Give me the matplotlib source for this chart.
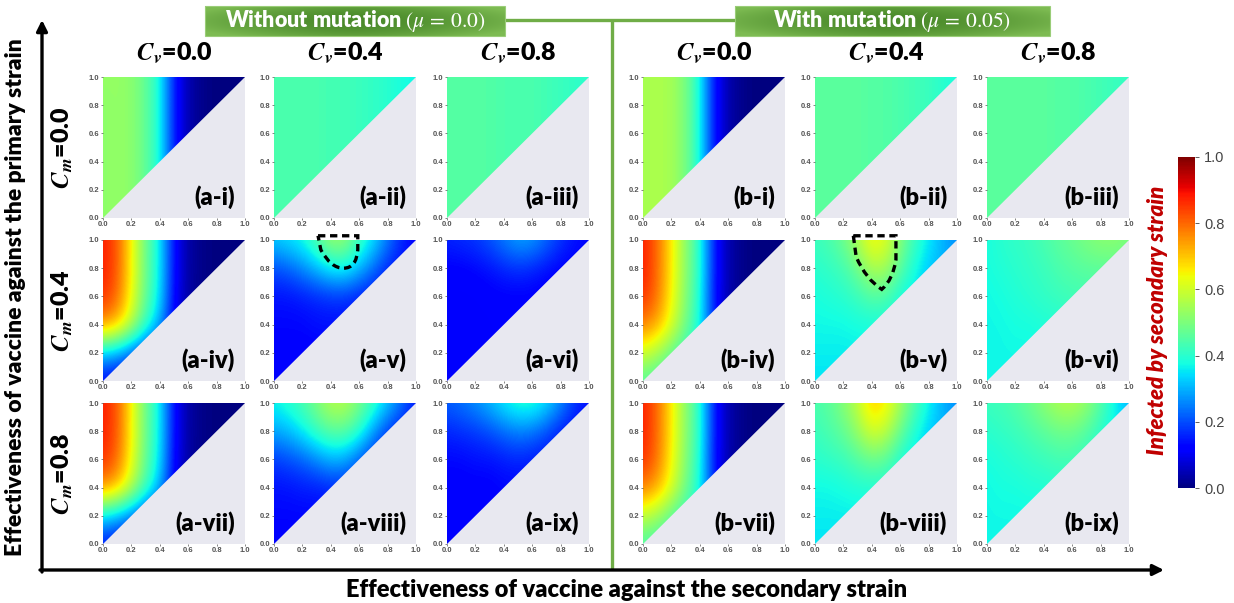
import numpy as np
import matplotlib
matplotlib.use('Agg')
import matplotlib.pyplot as plt
from matplotlib.patches import Polygon, Rectangle, PathPatch
from matplotlib.path import Path
import matplotlib.colors as mcolors
import matplotlib.cm as cm

plt.rcParams['font.family'] = ['Lato', 'DejaVu Sans']
plt.rcParams['mathtext.fontset'] = 'stix'

# ---------------- data (grid: rows y=0,0.2,...,1.0 ; cols x=0,0.1,...,1.0) ----------------
GRID_X = [0.0, 0.1, 0.2, 0.3, 0.4, 0.5, 0.6, 0.7, 0.8, 0.9, 1.0]
GRID_Y = [0.0, 0.2, 0.4, 0.6, 0.8, 1.0]

A_I = [
    [0.52, 0.53, 0.52, 0.47, 0.38, 0.15, 0.04, 0.01, 0.00, 0.00, 0.00],
    [0.52, 0.53, 0.52, 0.47, 0.38, 0.15, 0.04, 0.01, 0.00, 0.00, 0.00],
    [0.52, 0.53, 0.52, 0.47, 0.38, 0.15, 0.04, 0.01, 0.00, 0.00, 0.00],
    [0.52, 0.53, 0.52, 0.47, 0.38, 0.15, 0.04, 0.01, 0.00, 0.00, 0.00],
    [0.52, 0.53, 0.52, 0.47, 0.38, 0.15, 0.04, 0.01, 0.00, 0.00, 0.00],
    [0.53, 0.53, 0.52, 0.47, 0.38, 0.15, 0.04, 0.01, 0.00, 0.00, 0.00],
]
A_II = [
    [0.44, 0.44, 0.44, 0.44, 0.43, 0.43, 0.42, 0.41, 0.40, 0.38, 0.37],
    [0.44, 0.44, 0.44, 0.44, 0.43, 0.43, 0.42, 0.41, 0.40, 0.38, 0.37],
    [0.44, 0.44, 0.44, 0.44, 0.43, 0.43, 0.42, 0.41, 0.40, 0.38, 0.37],
    [0.44, 0.44, 0.44, 0.44, 0.43, 0.43, 0.42, 0.41, 0.40, 0.38, 0.37],
    [0.44, 0.44, 0.44, 0.44, 0.43, 0.43, 0.42, 0.41, 0.40, 0.38, 0.37],
    [0.44, 0.44, 0.44, 0.44, 0.43, 0.43, 0.42, 0.41, 0.40, 0.38, 0.37],
]
A_III = [
    [0.45, 0.45, 0.45, 0.45, 0.44, 0.44, 0.44, 0.43, 0.42, 0.41, 0.40],
    [0.45, 0.45, 0.45, 0.45, 0.44, 0.44, 0.44, 0.43, 0.42, 0.41, 0.40],
    [0.45, 0.45, 0.45, 0.45, 0.44, 0.44, 0.44, 0.43, 0.42, 0.41, 0.40],
    [0.45, 0.45, 0.45, 0.45, 0.44, 0.44, 0.44, 0.43, 0.42, 0.41, 0.40],
    [0.45, 0.45, 0.45, 0.45, 0.44, 0.44, 0.44, 0.43, 0.42, 0.41, 0.40],
    [0.45, 0.45, 0.45, 0.45, 0.44, 0.44, 0.44, 0.43, 0.42, 0.41, 0.40],
]
A_IV = [
    [0.12, 0.10, 0.09, 0.08, 0.07, 0.06, 0.03, 0.01, 0.00, 0.00, 0.00],
    [0.32, 0.29, 0.22, 0.16, 0.12, 0.08, 0.03, 0.01, 0.00, 0.00, 0.00],
    [0.76, 0.71, 0.58, 0.42, 0.30, 0.11, 0.03, 0.01, 0.00, 0.00, 0.00],
    [0.86, 0.80, 0.64, 0.47, 0.35, 0.12, 0.03, 0.01, 0.00, 0.00, 0.00],
    [0.88, 0.82, 0.65, 0.48, 0.36, 0.13, 0.03, 0.01, 0.00, 0.00, 0.00],
    [0.88, 0.82, 0.65, 0.48, 0.36, 0.13, 0.03, 0.01, 0.00, 0.00, 0.00],
]
A_V = [
    [0.11, 0.11, 0.11, 0.11, 0.11, 0.11, 0.11, 0.11, 0.11, 0.11, 0.11],
    [0.12, 0.12, 0.12, 0.12, 0.12, 0.12, 0.12, 0.12, 0.12, 0.12, 0.12],
    [0.13, 0.13, 0.13, 0.14, 0.14, 0.14, 0.13, 0.13, 0.12, 0.12, 0.12],
    [0.14, 0.14, 0.15, 0.16, 0.17, 0.17, 0.15, 0.14, 0.13, 0.12, 0.12],
    [0.20, 0.22, 0.26, 0.31, 0.36, 0.37, 0.31, 0.23, 0.16, 0.14, 0.13],
    [0.33, 0.35, 0.38, 0.45, 0.54, 0.53, 0.43, 0.35, 0.25, 0.16, 0.12],
]
A_VI = [
    [0.11, 0.11, 0.11, 0.11, 0.11, 0.11, 0.11, 0.11, 0.11, 0.11, 0.11],
    [0.11, 0.11, 0.11, 0.11, 0.11, 0.11, 0.11, 0.11, 0.11, 0.11, 0.11],
    [0.11, 0.11, 0.11, 0.11, 0.12, 0.12, 0.12, 0.11, 0.11, 0.11, 0.11],
    [0.11, 0.11, 0.11, 0.12, 0.12, 0.12, 0.12, 0.11, 0.11, 0.11, 0.11],
    [0.12, 0.12, 0.13, 0.14, 0.16, 0.17, 0.16, 0.14, 0.12, 0.12, 0.12],
    [0.16, 0.17, 0.18, 0.21, 0.25, 0.29, 0.28, 0.23, 0.18, 0.14, 0.13],
]
A_VII = [
    [0.14, 0.12, 0.10, 0.08, 0.07, 0.06, 0.03, 0.01, 0.00, 0.00, 0.00],
    [0.34, 0.30, 0.24, 0.17, 0.12, 0.08, 0.03, 0.01, 0.00, 0.00, 0.00],
    [0.76, 0.71, 0.58, 0.43, 0.31, 0.11, 0.03, 0.01, 0.00, 0.00, 0.00],
    [0.86, 0.80, 0.64, 0.47, 0.35, 0.12, 0.03, 0.01, 0.00, 0.00, 0.00],
    [0.88, 0.82, 0.65, 0.48, 0.36, 0.13, 0.03, 0.01, 0.00, 0.00, 0.00],
    [0.88, 0.82, 0.65, 0.48, 0.36, 0.13, 0.03, 0.01, 0.00, 0.00, 0.00],
]
A_VIII = [
    [0.12, 0.12, 0.12, 0.12, 0.12, 0.12, 0.12, 0.12, 0.12, 0.12, 0.12],
    [0.13, 0.13, 0.13, 0.13, 0.13, 0.13, 0.13, 0.13, 0.13, 0.13, 0.13],
    [0.14, 0.14, 0.15, 0.15, 0.16, 0.16, 0.15, 0.14, 0.13, 0.13, 0.13],
    [0.18, 0.20, 0.22, 0.26, 0.30, 0.29, 0.22, 0.16, 0.14, 0.13, 0.13],
    [0.29, 0.31, 0.36, 0.42, 0.46, 0.46, 0.40, 0.28, 0.18, 0.14, 0.13],
    [0.37, 0.40, 0.44, 0.50, 0.57, 0.57, 0.50, 0.42, 0.33, 0.24, 0.15],
]
A_IX = [
    [0.12, 0.12, 0.12, 0.12, 0.12, 0.12, 0.12, 0.12, 0.12, 0.12, 0.12],
    [0.12, 0.12, 0.12, 0.12, 0.12, 0.12, 0.12, 0.12, 0.12, 0.12, 0.12],
    [0.12, 0.12, 0.12, 0.12, 0.13, 0.13, 0.13, 0.12, 0.12, 0.12, 0.12],
    [0.13, 0.13, 0.14, 0.14, 0.15, 0.16, 0.15, 0.14, 0.13, 0.12, 0.12],
    [0.16, 0.17, 0.18, 0.20, 0.23, 0.25, 0.24, 0.20, 0.15, 0.13, 0.12],
    [0.22, 0.24, 0.27, 0.31, 0.36, 0.40, 0.40, 0.35, 0.27, 0.18, 0.14],
]
B_I = [
    [0.55, 0.56, 0.55, 0.50, 0.38, 0.14, 0.04, 0.01, 0.00, 0.00, 0.00],
    [0.55, 0.56, 0.55, 0.50, 0.38, 0.14, 0.04, 0.01, 0.00, 0.00, 0.00],
    [0.55, 0.56, 0.55, 0.50, 0.38, 0.14, 0.04, 0.01, 0.00, 0.00, 0.00],
    [0.55, 0.56, 0.55, 0.50, 0.38, 0.14, 0.04, 0.01, 0.00, 0.00, 0.00],
    [0.55, 0.56, 0.55, 0.50, 0.38, 0.14, 0.04, 0.01, 0.00, 0.00, 0.00],
    [0.55, 0.56, 0.55, 0.50, 0.38, 0.14, 0.04, 0.01, 0.00, 0.00, 0.00],
]
B_II = [
    [0.46, 0.46, 0.46, 0.46, 0.45, 0.45, 0.44, 0.43, 0.42, 0.40, 0.38],
    [0.46, 0.46, 0.46, 0.46, 0.45, 0.45, 0.44, 0.43, 0.42, 0.40, 0.38],
    [0.46, 0.46, 0.46, 0.46, 0.45, 0.45, 0.44, 0.43, 0.42, 0.40, 0.38],
    [0.46, 0.46, 0.46, 0.46, 0.45, 0.45, 0.44, 0.43, 0.42, 0.40, 0.38],
    [0.46, 0.46, 0.46, 0.46, 0.45, 0.45, 0.44, 0.43, 0.42, 0.40, 0.38],
    [0.46, 0.46, 0.46, 0.46, 0.45, 0.45, 0.44, 0.43, 0.42, 0.40, 0.38],
]
B_III = [
    [0.46, 0.46, 0.46, 0.46, 0.46, 0.45, 0.45, 0.44, 0.43, 0.42, 0.41],
    [0.46, 0.46, 0.46, 0.46, 0.46, 0.45, 0.45, 0.44, 0.43, 0.42, 0.41],
    [0.46, 0.46, 0.46, 0.46, 0.46, 0.45, 0.45, 0.44, 0.43, 0.42, 0.41],
    [0.46, 0.46, 0.46, 0.46, 0.46, 0.45, 0.45, 0.44, 0.43, 0.42, 0.41],
    [0.46, 0.46, 0.46, 0.46, 0.46, 0.45, 0.45, 0.44, 0.43, 0.42, 0.41],
    [0.46, 0.46, 0.46, 0.46, 0.46, 0.45, 0.45, 0.44, 0.43, 0.42, 0.41],
]
B_IV = [
    [0.45, 0.43, 0.40, 0.38, 0.36, 0.20, 0.05, 0.01, 0.00, 0.00, 0.00],
    [0.60, 0.55, 0.47, 0.41, 0.37, 0.20, 0.05, 0.01, 0.00, 0.00, 0.00],
    [0.78, 0.73, 0.62, 0.49, 0.38, 0.15, 0.04, 0.01, 0.00, 0.00, 0.00],
    [0.86, 0.79, 0.65, 0.51, 0.39, 0.14, 0.04, 0.01, 0.00, 0.00, 0.00],
    [0.88, 0.80, 0.66, 0.52, 0.40, 0.15, 0.04, 0.01, 0.00, 0.00, 0.00],
    [0.88, 0.80, 0.66, 0.52, 0.40, 0.15, 0.04, 0.01, 0.00, 0.00, 0.00],
]
B_V = [
    [0.35, 0.35, 0.35, 0.35, 0.35, 0.35, 0.35, 0.35, 0.35, 0.35, 0.35],
    [0.36, 0.36, 0.36, 0.36, 0.36, 0.36, 0.36, 0.36, 0.35, 0.35, 0.35],
    [0.37, 0.37, 0.37, 0.38, 0.38, 0.38, 0.37, 0.36, 0.35, 0.34, 0.33],
    [0.38, 0.39, 0.40, 0.42, 0.45, 0.44, 0.38, 0.35, 0.33, 0.32, 0.31],
    [0.40, 0.41, 0.43, 0.48, 0.56, 0.55, 0.46, 0.38, 0.32, 0.30, 0.29],
    [0.42, 0.44, 0.48, 0.56, 0.65, 0.62, 0.51, 0.42, 0.36, 0.30, 0.26],
]
B_VI = [
    [0.37, 0.37, 0.37, 0.37, 0.37, 0.37, 0.37, 0.37, 0.37, 0.37, 0.37],
    [0.37, 0.37, 0.37, 0.37, 0.37, 0.37, 0.37, 0.37, 0.37, 0.37, 0.37],
    [0.37, 0.37, 0.38, 0.38, 0.39, 0.39, 0.40, 0.40, 0.40, 0.40, 0.40],
    [0.37, 0.38, 0.39, 0.40, 0.41, 0.42, 0.43, 0.43, 0.43, 0.43, 0.43],
    [0.38, 0.39, 0.40, 0.41, 0.42, 0.44, 0.45, 0.46, 0.46, 0.46, 0.46],
    [0.38, 0.40, 0.41, 0.42, 0.44, 0.46, 0.48, 0.50, 0.52, 0.52, 0.50],
]
B_VII = [
    [0.44, 0.42, 0.40, 0.38, 0.36, 0.20, 0.05, 0.01, 0.00, 0.00, 0.00],
    [0.58, 0.54, 0.46, 0.41, 0.37, 0.20, 0.05, 0.01, 0.00, 0.00, 0.00],
    [0.78, 0.73, 0.62, 0.49, 0.38, 0.15, 0.04, 0.01, 0.00, 0.00, 0.00],
    [0.86, 0.79, 0.65, 0.51, 0.39, 0.14, 0.04, 0.01, 0.00, 0.00, 0.00],
    [0.88, 0.80, 0.66, 0.52, 0.40, 0.15, 0.04, 0.01, 0.00, 0.00, 0.00],
    [0.88, 0.80, 0.66, 0.52, 0.40, 0.15, 0.04, 0.01, 0.00, 0.00, 0.00],
]
B_VIII = [
    [0.35, 0.35, 0.35, 0.35, 0.35, 0.35, 0.35, 0.35, 0.35, 0.35, 0.35],
    [0.36, 0.36, 0.36, 0.36, 0.36, 0.36, 0.36, 0.36, 0.35, 0.35, 0.35],
    [0.37, 0.37, 0.38, 0.39, 0.39, 0.39, 0.37, 0.36, 0.35, 0.34, 0.33],
    [0.40, 0.41, 0.42, 0.45, 0.48, 0.46, 0.39, 0.35, 0.33, 0.32, 0.31],
    [0.42, 0.44, 0.47, 0.53, 0.61, 0.58, 0.48, 0.39, 0.33, 0.30, 0.29],
    [0.44, 0.46, 0.51, 0.58, 0.70, 0.66, 0.55, 0.45, 0.37, 0.30, 0.26],
]
B_IX = [
    [0.37, 0.37, 0.37, 0.37, 0.37, 0.37, 0.37, 0.37, 0.37, 0.37, 0.37],
    [0.37, 0.37, 0.37, 0.37, 0.37, 0.37, 0.37, 0.37, 0.37, 0.37, 0.37],
    [0.37, 0.38, 0.38, 0.39, 0.39, 0.40, 0.39, 0.38, 0.37, 0.36, 0.35],
    [0.38, 0.39, 0.40, 0.41, 0.42, 0.43, 0.43, 0.41, 0.38, 0.36, 0.34],
    [0.40, 0.41, 0.42, 0.44, 0.46, 0.48, 0.48, 0.45, 0.40, 0.36, 0.33],
    [0.42, 0.43, 0.45, 0.48, 0.52, 0.56, 0.57, 0.53, 0.45, 0.36, 0.30],
]

GROUP_A = [[A_I, A_II, A_III], [A_IV, A_V, A_VI], [A_VII, A_VIII, A_IX]]
GROUP_B = [[B_I, B_II, B_III], [B_IV, B_V, B_VI], [B_VII, B_VIII, B_IX]]
LABELS_A = [['(a-i)', '(a-ii)', '(a-iii)'], ['(a-iv)', '(a-v)', '(a-vi)'], ['(a-vii)', '(a-viii)', '(a-ix)']]
LABELS_B = [['(b-i)', '(b-ii)', '(b-iii)'], ['(b-iv)', '(b-v)', '(b-vi)'], ['(b-vii)', '(b-viii)', '(b-ix)']]
CV_VALUES = ['0.0', '0.4', '0.8']
CM_VALUES = ['0.0', '0.4', '0.8']
GROUP_TITLES = ['Without mutation $(\\mu\\,=\\,0.0)$', 'With mutation $(\\mu\\,=\\,0.05)$']
TICKS = [0.0, 0.2, 0.4, 0.6, 0.8, 1.0]
TICK_LABELS = ['0.0', '0.2', '0.4', '0.6', '0.8', '1.0']
XLABEL = 'Effectiveness of vaccine against the secondary strain'
YLABEL = 'Effectiveness of vaccine against the primary strain'
CBAR_LABEL = 'Infected by secondary strain'

# dashed highlight outlines (annotation shapes, data coords)
OUTLINE_AV = [(0.31, 1.03), (0.59, 1.03), (0.59, 0.93), (0.58, 0.80), (0.49, 0.80), (0.40, 0.80), (0.33, 0.93), (0.31, 1.03)]
OUTLINE_BV = [(0.27, 1.03), (0.57, 1.03), (0.57, 0.86), (0.55, 0.72), (0.47, 0.65), (0.36, 0.72), (0.29, 0.88), (0.27, 1.03)]
OUTLINE_CODES = [Path.MOVETO, Path.LINETO, Path.LINETO, Path.CURVE3, Path.CURVE3, Path.CURVE3, Path.CURVE3, Path.LINETO]

# ---------------- layout (pixels) ----------------
W, H = 1234, 603
COL_LEFT = [103, 274, 447, 643, 815, 987]
ROW_TOP = [77, 240, 403]
PW, PH = 142, 141
GREEN = '#70AD47'
HEAVY = 'heavy'

fig = plt.figure(figsize=(W / 100, H / 100), dpi=100)

ov = fig.add_axes([0, 0, 1, 1], zorder=0)
ov.axis('off')

cmap = plt.get_cmap('jet')
norm = mcolors.Normalize(vmin=0, vmax=1)

dx = (GRID_X[1] - GRID_X[0]) / 2
dy = (GRID_Y[1] - GRID_Y[0]) / 2
extent = [GRID_X[0] - dx, GRID_X[-1] + dx, GRID_Y[0] - dy, GRID_Y[-1] + dy]

for g, (grids, labels) in enumerate([(GROUP_A, LABELS_A), (GROUP_B, LABELS_B)]):
    for r in range(3):
        for c in range(3):
            left = COL_LEFT[g * 3 + c]
            top = ROW_TOP[r]
            ax = fig.add_axes([left / W, 1 - (top + PH) / H, PW / W, PH / H], zorder=2)
            im = ax.imshow(np.array(grids[r][c]), origin='lower', extent=extent, cmap=cmap, norm=norm,
                           interpolation='bicubic', interpolation_stage='data', aspect='auto')
            tri = Polygon([(0, 0), (0, 1), (1, 1)], closed=True, transform=ax.transData)
            im.set_clip_path(tri)
            ax.set_xlim(0, 1)
            ax.set_ylim(0, 1)
            ax.set_facecolor('#E8E8F0')
            for s in ax.spines.values():
                s.set_visible(False)
            ax.set_xticks(TICKS)
            ax.set_yticks(TICKS)
            ax.set_xticklabels(TICK_LABELS)
            ax.set_yticklabels(TICK_LABELS)
            ax.tick_params(labelsize=5.5, length=1.5, width=0.5, pad=1, colors='#555555')
            for lab in ax.get_xticklabels() + ax.get_yticklabels():
                lab.set_fontfamily(['Liberation Sans', 'DejaVu Sans'])
                lab.set_fontweight('bold')
            ax.text(0.93, 0.15, labels[r][c], transform=ax.transAxes, ha='right', va='center',
                    fontsize=17, fontweight=HEAVY, color='black')
            if r == 1 and c == 1:
                pts = OUTLINE_AV if g == 0 else OUTLINE_BV
                patch = PathPatch(Path(pts, OUTLINE_CODES), fill=False, edgecolor='black', lw=2.4,
                                  linestyle=(0, (2.2, 1.4)), clip_on=False, zorder=5)
                ax.add_patch(patch)

# column titles and row labels
for g in range(2):
    for c in range(3):
        cx = COL_LEFT[g * 3 + c] + PW / 2
        ov.text(cx, 53, '$\\mathbfit{C}_{\\mathbfit{v}}$=' + CV_VALUES[c], ha='center', va='center',
                fontsize=18, fontweight=HEAVY)
for r in range(3):
    cy = ROW_TOP[r] + PH / 2
    ov.text(62, cy, '$\\mathbfit{C}_{\\mathbfit{m}}$=' + CM_VALUES[r], ha='center', va='center',
            fontsize=18, fontweight=HEAVY, rotation=90)

# green title boxes with gradient
BOXES = [(205, 505), (735, 1050)]
by0, by1 = 6, 36
dark = np.array(mcolors.to_rgb('#4A8A2A'))
light = np.array(mcolors.to_rgb('#7DBB52'))
for (bx0, bx1), title in zip(BOXES, GROUP_TITLES):
    xx = np.linspace(-1, 1, 200)
    yy = np.linspace(-1, 1, 30)
    XX, YY = np.meshgrid(xx, yy)
    w = np.clip(0.75 * np.abs(XX) ** 1.6 + 0.45 * YY ** 2, 0, 1)[..., None]
    img = dark * (1 - w) + light * w
    ov.imshow(img, extent=[bx0, bx1, by1, by0], aspect='auto', zorder=1, interpolation='bilinear')
    ov.add_patch(Rectangle((bx0, by0), bx1 - bx0, by1 - by0, fill=False, edgecolor='#9ACD78', lw=0.8, zorder=2))
    ov.text((bx0 + bx1) / 2, (by0 + by1) / 2 + 0.5, title, ha='center', va='center', color='white',
            fontsize=15.5, fontweight=HEAVY, zorder=3)

# green connector lines
ov.plot([BOXES[0][1], BOXES[1][0]], [20, 20], color=GREEN, lw=2.4, solid_capstyle='butt', zorder=1)
ov.plot([612, 612], [20, 569], color=GREEN, lw=2.4, solid_capstyle='butt', zorder=1)

# black axis arrows
ov.annotate('', xy=(42, 20), xytext=(42, 572),
            arrowprops=dict(arrowstyle='-|>', lw=2.4, color='black', mutation_scale=16, shrinkA=0, shrinkB=0))
ov.annotate('', xy=(1164, 570), xytext=(40, 570),
            arrowprops=dict(arrowstyle='-|>', lw=2.4, color='black', mutation_scale=16, shrinkA=0, shrinkB=0))

ov.text(627, 590, XLABEL, ha='center', va='center', fontsize=17, fontweight=HEAVY)
ov.text(16, 297, YLABEL, ha='center', va='center', fontsize=16.5, fontweight=HEAVY, rotation=90)

# colorbar
cax = fig.add_axes([1178 / W, 1 - 488 / H, 17 / W, (488 - 157) / H], zorder=2)
sm = cm.ScalarMappable(norm=norm, cmap=cmap)
cb = fig.colorbar(sm, cax=cax)
cb.set_ticks(TICKS)
cb.set_ticklabels(TICK_LABELS)
cb.outline.set_visible(False)
cb.ax.tick_params(labelsize=10.5, length=3, width=0.6, colors='#444444')
for lab in cb.ax.get_yticklabels():
    lab.set_fontfamily(['Liberation Sans', 'DejaVu Sans'])
ov.text(1158, 320, CBAR_LABEL, ha='center', va='center', rotation=90, color='#C00000',
        fontsize=16, fontweight=HEAVY, fontstyle='italic')

ov.set_xlim(0, W)
ov.set_ylim(H, 0)

fig.savefig('out.png', dpi=100)
